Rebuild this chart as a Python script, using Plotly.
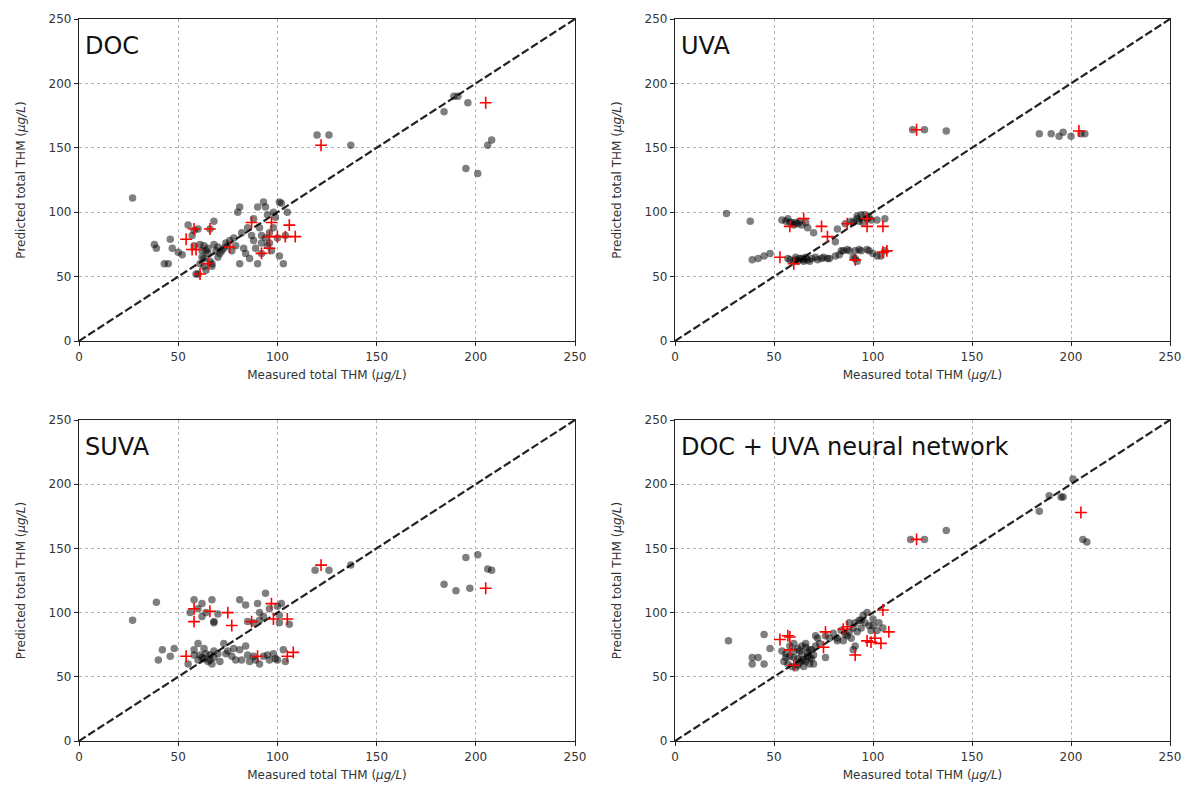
import plotly.graph_objects as go

# ---------------- data ----------------
doc_train_x = [27, 38, 39, 43, 45, 46, 47, 50, 52, 55, 57, 58, 59, 60, 60, 61, 62, 62, 63, 63,
               64, 65, 65, 66, 66, 67, 68, 68, 69, 70, 70, 72, 74, 76, 78, 79, 80, 81, 82, 83,
               84, 85, 86, 87, 88, 88, 89, 90, 90, 91, 92, 92, 93, 94, 94, 95, 95, 96, 97, 98,
               99, 100, 101, 102, 103, 104, 105, 101, 120, 126, 137, 184, 189, 191, 196, 206, 208, 195, 201,
               58, 61, 63, 64, 67, 71, 73, 75, 77, 92, 96, 98, 81]
doc_train_y = [111, 75, 72, 60, 60, 79, 72, 69, 67, 90, 82, 86, 52, 52, 87, 75, 70, 65, 74, 58,
               55, 72, 68, 62, 87, 58, 93, 75, 70, 65, 73, 70, 76, 78, 80, 74, 100, 60, 84, 72,
               68, 88, 64, 82, 95, 78, 72, 60, 104, 88, 76, 68, 108, 104, 80, 98, 74, 84, 70, 88,
               96, 80, 66, 107, 60, 82, 100, 108, 160, 160, 152, 178, 190, 190, 185, 152, 156, 134, 130,
               74, 60, 64, 70, 60, 68, 72, 74, 70, 82, 76, 100, 104]
doc_test_x = [54, 57, 59, 58, 61, 65, 66, 76, 87, 92, 96, 97, 96, 100, 104, 106, 109, 122, 205]
doc_test_y = [79, 71, 71, 87, 52, 60, 87, 73, 92, 68, 72, 92, 81, 81, 81, 90, 81, 152, 185]

uva_train_x = [26, 38, 54, 56, 57, 58, 59, 60, 61, 62, 63, 64, 66, 67, 70, 81, 82, 86, 89, 90,
               92, 92, 93, 94, 95, 96, 97, 98, 99, 102, 106,
               39, 42, 45, 48, 57, 58, 60, 61, 61, 62, 63, 64, 65, 65, 66, 67, 68, 69, 71, 72,
               74, 75, 77, 78, 81, 83, 84, 85, 87, 88, 90, 91, 91, 92, 93, 94, 97, 98, 100, 102, 104, 106,
               120, 126, 137, 184, 190, 194, 196, 200, 205, 207]
uva_train_y = [99, 93, 94, 93, 95, 92, 92, 90, 92, 91, 93, 90, 92, 88, 84, 77, 87, 91, 93, 92,
               95, 97, 93, 98, 92, 98, 95, 96, 94, 94, 95,
               63, 64, 66, 68, 64, 63, 62, 63, 65, 62, 64, 64, 62, 63, 65, 63, 62, 64, 65, 63,
               64, 65, 64, 64, 66, 67, 70, 70, 71, 70, 65, 64, 70, 62, 71, 70, 71, 70, 68, 66, 66, 70,
               164, 164, 163, 161, 161, 159, 162, 159, 161, 161]
uva_test_x = [53, 58, 60, 65, 74, 77, 87, 91, 97, 97, 105, 105, 107, 122, 204]
uva_test_y = [65, 89, 60, 95, 89, 81, 91, 63, 95, 89, 89, 69, 70, 164, 163]

suva_train_x = [27, 39, 56, 58, 62, 67, 68, 68, 81, 84, 90, 91, 94, 93, 91, 88, 101, 101, 106,
                60, 64, 96, 100, 85, 62, 70, 102,
                40, 42, 46, 48, 58, 60, 62, 64, 66, 68, 65, 73, 77, 79, 81, 84, 88, 93, 96, 103,
                61, 63, 67, 70, 75, 86, 98, 100,
                55, 58, 60, 63, 66, 68, 71, 74, 78, 82, 85, 89, 91, 95, 99, 104,
                119, 126, 137, 184, 190, 197, 195, 201, 206, 208]
suva_train_y = [94, 108, 100, 110, 107, 110, 92, 93, 110, 106, 107, 100, 115, 97, 94, 92, 98, 92, 91,
                103, 100, 103, 105, 93, 97, 99, 107,
                63, 71, 66, 72, 71, 76, 65, 68, 63, 70, 62, 76, 66, 63, 71, 74, 66, 66, 63, 71,
                67, 64, 60, 68, 70, 62, 68, 63,
                60, 67, 63, 72, 67, 65, 62, 68, 72, 63, 67, 63, 60, 67, 64, 62,
                133, 133, 137, 122, 117, 119, 143, 145, 134, 133]
suva_test_x = [54, 58, 58, 66, 75, 77, 87, 90, 97, 98, 105, 105, 108, 122, 205]
suva_test_y = [66, 103, 93, 101, 100, 90, 93, 66, 107, 95, 95, 66, 69, 137, 119]

nn_train_x = [27, 39, 42, 45, 39, 45, 48, 54, 56, 58, 60, 62, 64, 66, 68, 55, 57, 59, 61, 63,
              65, 67, 69, 70, 60, 62, 64, 66, 68, 71, 71, 68, 72, 76, 80, 82, 84, 86, 88, 90,
              91, 93, 95, 97, 102, 105, 82, 90, 91, 94, 96, 99, 100,
              58, 60, 63, 65, 67, 69, 62, 64, 56, 66, 70, 73, 76, 78, 85, 87, 89, 92, 94, 98, 100, 103, 88,
              119, 126, 137, 184, 189, 195, 196, 201, 206, 208]
nn_train_y = [78, 65, 65, 83, 60, 60, 72, 70, 68, 66, 65, 64, 63, 62, 60, 62, 60, 58, 57, 61,
              63, 66, 64, 60, 70, 72, 68, 73, 71, 82, 74, 65, 80, 82, 84, 80, 86, 83, 85, 88,
              92, 94, 98, 100, 86, 88, 78, 71, 74, 94, 92, 86, 90,
              74, 76, 70, 58, 69, 71, 59, 74, 65, 76, 67, 76, 65, 80, 78, 82, 80, 85, 88, 90, 95, 92, 92,
              157, 157, 164, 179, 191, 190, 190, 204, 157, 155]
nn_test_x = [53, 57, 58, 58, 60, 75, 76, 85, 87, 91, 97, 99, 101, 104, 105, 108, 122, 205]
nn_test_y = [79, 82, 81, 71, 59, 73, 85, 87, 89, 67, 78, 77, 80, 76, 102, 85, 157, 178]

panel_titles = ["DOC", "UVA", "SUVA", "DOC + UVA neural network"]
tick_vals = [0, 50, 100, 150, 200, 250]
diag = [0, 250]

panels = [
    (doc_train_x, doc_train_y, doc_test_x, doc_test_y),
    (uva_train_x, uva_train_y, uva_test_x, uva_test_y),
    (suva_train_x, suva_train_y, suva_test_x, suva_test_y),
    (nn_train_x, nn_train_y, nn_test_x, nn_test_y),
]

W, H = 1187, 794
# plot-area pixel boxes in page coordinates (left, right, top, bottom)
boxes = [(79, 575, 19, 341), (675, 1170, 19, 341), (79, 575, 420, 741), (675, 1170, 420, 741)]

fig = go.Figure()
font_family = "DejaVu Sans"
layout = dict(
    width=W, height=H, margin=dict(l=0, r=0, t=0, b=0, autoexpand=False),
    paper_bgcolor="white", plot_bgcolor="white", showlegend=False,
    font=dict(family=font_family, color="#333333", size=12),
)
annotations = []
for i, ((tx, ty, vx, vy), box) in enumerate(zip(panels, boxes)):
    n = "" if i == 0 else str(i + 1)
    xa, ya = "x" + n, "y" + n
    l, r, t, b = box
    axis_common = dict(
        range=[0, 250], tickvals=tick_vals, showgrid=True, gridcolor="#b5b5b5",
        griddash="dot", gridwidth=1, zeroline=False, showline=True, linecolor="#222222",
        linewidth=1.3, mirror=True, ticks="outside", ticklen=4, tickcolor="#222222",
        tickfont=dict(size=12, color="#333333", family=font_family), automargin=False,
    )
    layout["xaxis" + n] = dict(
        axis_common, domain=[l / W, r / W], anchor=ya,
        title=dict(text="Measured total THM (<i>μg/L</i>)", font=dict(size=12, color="#333333"), standoff=8),
    )
    layout["yaxis" + n] = dict(
        axis_common, domain=[1 - b / H, 1 - t / H], anchor=xa,
        title=dict(text="Predicted total THM (<i>μg/L</i>)", font=dict(size=12, color="#333333"), standoff=20),
    )
    fig.add_trace(go.Scatter(x=diag, y=diag, mode="lines", xaxis=xa, yaxis=ya,
                             line=dict(color="#222222", width=2.2, dash="8px,3px"), hoverinfo="skip"))
    fig.add_trace(go.Scatter(x=tx, y=ty, mode="markers", xaxis=xa, yaxis=ya,
                             marker=dict(size=7.5, color="rgba(0,0,0,0.5)", line=dict(width=0))))
    fig.add_trace(go.Scatter(x=vx, y=vy, mode="markers", xaxis=xa, yaxis=ya,
                             marker=dict(size=8.5, symbol="cross-thin", color="red",
                                         line=dict(color="red", width=1.6))))
    annotations.append(dict(text=panel_titles[i], xref=xa + " domain", yref=ya + " domain",
                            x=0.008, y=0.965, xanchor="left", yanchor="top", showarrow=False,
                            font=dict(size=24, color="#111111", family=font_family)))

layout["annotations"] = annotations
fig.update_layout(**layout)
fig.write_html("out.html", config={"displayModeBar": False},
               post_script="document.body.style.margin='0px';")
